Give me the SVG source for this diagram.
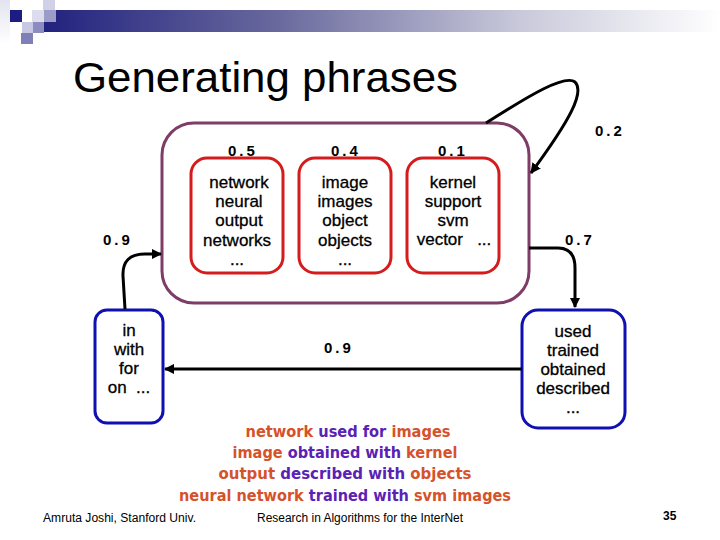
<svg xmlns="http://www.w3.org/2000/svg" width="720" height="540" viewBox="0 0 720 540">
<defs>
<linearGradient id="band" x1="0" y1="0" x2="1" y2="0">
<stop offset="0" stop-color="#22227f"/>
<stop offset="0.35" stop-color="#6a6a9e"/>
<stop offset="0.7" stop-color="#c8c8da"/>
<stop offset="1" stop-color="#ffffff"/>
</linearGradient>
<linearGradient id="side" x1="0" y1="0" x2="0" y2="1">
<stop offset="0" stop-color="#e4e4f0"/>
<stop offset="1" stop-color="#ffffff"/>
</linearGradient>
<marker id="ah" viewBox="0 0 10 10" refX="9" refY="5" markerWidth="3.5" markerHeight="3.5" orient="auto" markerUnits="strokeWidth">
<path d="M0,0 L10,5 L0,10 z" fill="#000"/>
</marker>
<style>
.title{font-family:"Liberation Sans",Arial,sans-serif;font-size:42px;fill:#000}
.prob{font-family:"Liberation Sans",Arial,sans-serif;font-size:15px;font-weight:bold;letter-spacing:3px;fill:#000}
.word{font-family:"Liberation Sans",Arial,sans-serif;font-size:17px;fill:#000;text-anchor:middle;stroke:#000;stroke-width:0.3}
.outer{fill:#fff;stroke:#7e3c66;stroke-width:3}
.inner{fill:#fff;stroke:#d41c1c;stroke-width:3}
.blue{fill:#fff;stroke:#1010b0;stroke-width:3}
.conn{fill:none;stroke:#000;stroke-width:3;marker-end:url(#ah)}
.sent{font-family:"Comic Sans MS","DejaVu Sans",sans-serif;font-size:15px;font-weight:bold;text-anchor:middle}
.o{fill:#d5522a}
.p{fill:#5a22b4}
.foot{font-family:"Liberation Sans",Arial,sans-serif;font-size:12px;fill:#000}
</style>
</defs>
<g id="header">
<rect x="0" y="0" width="10" height="44" fill="url(#side)"/>
<rect x="44" y="10" width="676" height="22" fill="url(#band)"/>
<rect x="10" y="10" width="12" height="12" fill="#1c1c82"/>
<rect x="43" y="0" width="12" height="10" fill="#d0d0e6"/>
<rect x="32" y="10" width="12" height="12" fill="#dcdcee"/>
<rect x="44" y="10" width="12" height="12" fill="#9c9cc8"/>
<rect x="22" y="22" width="11" height="11" fill="#c8c8e2"/>
<rect x="33" y="22" width="11" height="11" fill="#8c8cc0"/>
<rect x="21" y="33" width="12" height="11" fill="#8080b8"/>
</g>
<text class="title" x="73" y="92" textLength="385" lengthAdjust="spacingAndGlyphs">Generating phrases</text>
<g id="cluster">
<rect class="outer" x="162" y="123" width="367" height="180" rx="32"/>
</g>
<g id="n1">
<rect class="inner" x="191" y="158" width="92" height="115" rx="16"/>
<text class="prob" x="228" y="156">0.5</text>
<text class="word" x="239" y="188">network</text>
<text class="word" x="239" y="207">neural</text>
<text class="word" x="239" y="226">output</text>
<text class="word" x="237" y="246">networks</text>
<text class="word" x="237" y="265">...</text>
</g>
<g id="n2">
<rect class="inner" x="299" y="158" width="92" height="115" rx="16"/>
<text class="prob" x="331" y="156">0.4</text>
<text class="word" x="345" y="188">image</text>
<text class="word" x="345" y="207">images</text>
<text class="word" x="345" y="226">object</text>
<text class="word" x="345" y="246">objects</text>
<text class="word" x="345" y="265">...</text>
</g>
<g id="n3">
<rect class="inner" x="407" y="158" width="92" height="115" rx="16"/>
<text class="prob" x="438" y="156">0.1</text>
<text class="word" x="453" y="188">kernel</text>
<text class="word" x="453" y="207">support</text>
<text class="word" x="453" y="226">svm</text>
<text class="word" x="454" y="245" xml:space="preserve">vector   ...</text>
</g>
<g id="left">
<rect class="blue" x="95" y="310" width="68" height="113" rx="12"/>
<text class="word" x="129" y="336">in</text>
<text class="word" x="129" y="355">with</text>
<text class="word" x="129" y="374">for</text>
<text class="word" x="129" y="393" xml:space="preserve">on  ...</text>
</g>
<g id="right">
<rect class="blue" x="522" y="310" width="103" height="118" rx="16"/>
<text class="word" x="573" y="337">used</text>
<text class="word" x="573" y="356">trained</text>
<text class="word" x="573" y="375">obtained</text>
<text class="word" x="573" y="394">described</text>
<text class="word" x="573" y="413">...</text>
</g>
<g id="connectors">
<path class="conn" d="M125,309 L123,276 Q122,254 145,254 L161,254"/>
<path class="conn" d="M486,123 C530,95 565,74 575,82 C585,92 570,120 531,173"/>
<path class="conn" d="M529,248 L558,248 Q575,248 575,268 L575,307"/>
<path class="conn" d="M522,369 L165,369"/>
<text class="prob" x="103" y="245">0.9</text>
<text class="prob" x="595" y="136">0.2</text>
<text class="prob" x="565" y="245">0.7</text>
<text class="prob" x="324" y="353">0.9</text>
</g>
<g id="sentences">
<text class="sent" x="348" y="437" textLength="205" lengthAdjust="spacingAndGlyphs"><tspan class="o">network</tspan> <tspan class="p">used for</tspan> <tspan class="o">images</tspan></text>
<text class="sent" x="345" y="458" textLength="225" lengthAdjust="spacingAndGlyphs"><tspan class="o">image</tspan> <tspan class="p">obtained with</tspan> <tspan class="o">kernel</tspan></text>
<text class="sent" x="345" y="479" textLength="253" lengthAdjust="spacingAndGlyphs"><tspan class="o">output</tspan> <tspan class="p">described with</tspan> <tspan class="o">objects</tspan></text>
<text class="sent" x="345" y="501" textLength="332" lengthAdjust="spacingAndGlyphs"><tspan class="o">neural network</tspan> <tspan class="p">trained with</tspan> <tspan class="o">svm images</tspan></text>
</g>
<g id="footer">
<text class="foot" x="43" y="522" textLength="153" lengthAdjust="spacingAndGlyphs">Amruta Joshi, Stanford Univ.</text>
<text class="foot" x="257" y="522" textLength="206" lengthAdjust="spacingAndGlyphs">Research in Algorithms for the InterNet</text>
<text class="foot" x="663" y="520" font-weight="bold" font-size="13">35</text>
</g>
</svg>
